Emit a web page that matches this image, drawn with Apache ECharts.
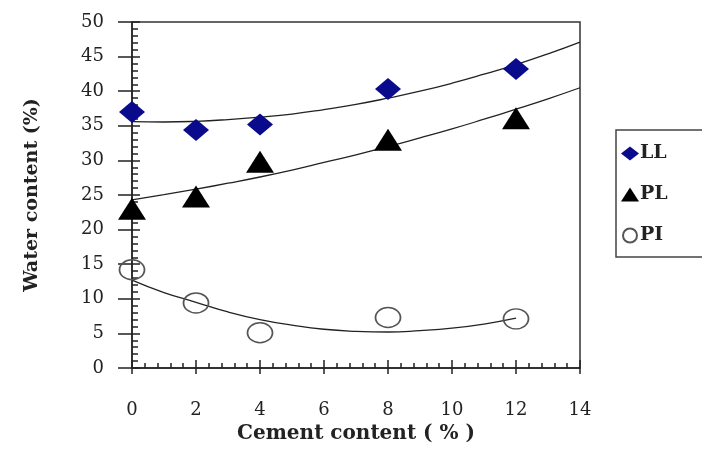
<!DOCTYPE html>
<html>
<head>
<meta charset="utf-8">
<script src="https://cdn.jsdelivr.net/npm/echarts@6/dist/echarts.min.js"></script>
<style>html,body{margin:0;padding:0;background:#fff;}#c{width:702px;height:455px;}</style>
</head>
<body>
<div id="c"></div>
<script>
// Measured points
var cement = [0, 2, 4, 8, 12];
var LL = [37.0, 34.4, 35.2, 40.3, 43.2];
var PL = [23.0, 24.8, 29.8, 33.0, 36.1];
var PI = [14.2, 9.4, 5.1, 7.3, 7.1];
// Trend lines
var trendX = [0, 1, 2, 3, 4, 5, 6, 7, 8, 9, 10, 11, 12, 13, 14];
var LLtrend = [35.6, 35.55, 35.65, 35.9, 36.25, 36.7, 37.35, 38.1, 39.0, 40.0, 41.15, 42.45, 43.85, 45.4, 47.1];
var PLtrend = [24.3, 25.05, 25.85, 26.7, 27.6, 28.6, 29.7, 30.8, 32.0, 33.25, 34.55, 35.95, 37.4, 38.9, 40.5];
var PIx = [0, 1, 2, 3, 4, 5, 6, 7, 8, 9, 10, 11, 12];
var PItrend = [12.7, 10.9, 9.5, 8.1, 7.0, 6.2, 5.6, 5.3, 5.2, 5.4, 5.75, 6.35, 7.2];
var yTicks = {min: 0, max: 50, step: 5};
var xTicks = {min: 0, max: 14, step: 2};

function pairs(xs, ys) { return xs.map(function (x, i) { return [x, ys[i]]; }); }

var serif = 'DejaVu Serif';
var chart = echarts.init(document.getElementById('c'), null, {renderer: 'canvas'});
var lineStyle = {color: '#222', width: 1.3};
var tickLine = {color: '#222', width: 1.5};
chart.setOption({
  animation: false,
  backgroundColor: '#fff',
  grid: {left: 132, right: 122, top: 22, bottom: 87, show: true, borderColor: '#333', borderWidth: 1.5, backgroundColor: 'transparent'},
  legend: {
    orient: 'vertical', left: 616, top: 130,
    data: ['LL', 'PL', 'PI'],
    borderColor: '#444', borderWidth: 1.5,
    padding: [14, 40, 12, 5], itemGap: 22,
    itemWidth: 18, itemHeight: 14,
    textStyle: {fontFamily: serif, fontSize: 19, fontWeight: 'bold', color: '#222', padding: [0, 0, 0, -4]}
  },
  xAxis: [{
    type: 'value', min: xTicks.min, max: xTicks.max, interval: xTicks.step,
    name: 'Cement content ( % )', nameLocation: 'middle', nameGap: 55,
    nameTextStyle: {fontFamily: serif, fontSize: 20, fontWeight: 'bold', color: '#222'},
    axisLine: {lineStyle: {color: '#222', width: 1.5}},
    axisTick: {show: true, inside: true, length: 8, lineStyle: tickLine},
    minorTick: {show: true, splitNumber: 5, length: 5, lineStyle: tickLine},
    axisLabel: {margin: 33, fontFamily: serif, fontSize: 18, color: '#222'},
    splitLine: {show: false}
  }, {
    type: 'value', min: xTicks.min, max: xTicks.max, interval: xTicks.step, position: 'bottom',
    axisLine: {show: false},
    axisTick: {show: true, inside: false, length: 6, lineStyle: tickLine},
    axisLabel: {show: false},
    splitLine: {show: false}
  }],
  yAxis: [{
    type: 'value', min: yTicks.min, max: yTicks.max, interval: yTicks.step,
    name: 'Water content (%)', nameLocation: 'middle', nameGap: 90, nameRotate: 90,
    nameTextStyle: {fontFamily: serif, fontSize: 19, fontWeight: 'bold', color: '#222'},
    axisLine: {lineStyle: {color: '#222', width: 1.5}},
    axisTick: {show: true, inside: false, length: 14, lineStyle: tickLine},
    axisLabel: {margin: 28, fontFamily: serif, fontSize: 18, color: '#222'},
    splitLine: {show: false}
  }, {
    type: 'value', min: yTicks.min, max: yTicks.max, interval: yTicks.step, position: 'left',
    axisLine: {show: false},
    axisTick: {show: true, inside: true, length: 8, lineStyle: tickLine},
    minorTick: {show: true, splitNumber: 5, length: 6, lineStyle: tickLine},
    axisLabel: {show: false},
    splitLine: {show: false}
  }],
  series: [
    {name: 'LL fit', type: 'line', data: pairs(trendX, LLtrend), smooth: true, showSymbol: false, symbol: 'none', lineStyle: lineStyle, z: 1},
    {name: 'PL fit', type: 'line', data: pairs(trendX, PLtrend), smooth: true, showSymbol: false, symbol: 'none', lineStyle: lineStyle, z: 1},
    {name: 'PI fit', type: 'line', data: pairs(PIx, PItrend), smooth: true, showSymbol: false, symbol: 'none', lineStyle: lineStyle, z: 1},
    {name: 'LL', type: 'scatter', data: pairs(cement, LL), symbol: 'diamond', symbolSize: [26, 22], itemStyle: {color: '#0a0a8c', opacity: 1}, z: 3},
    {name: 'PL', type: 'scatter', data: pairs(cement, PL), symbol: 'triangle', symbolSize: [28, 22], itemStyle: {color: '#000', opacity: 1}, z: 3},
    {name: 'PI', type: 'scatter', data: pairs(cement, PI), symbol: 'circle', symbolSize: [25, 20], itemStyle: {color: 'rgba(255,255,255,0)', borderColor: '#555', borderWidth: 1.6, opacity: 1}, z: 3}
  ]
});
</script>
</body>
</html>
